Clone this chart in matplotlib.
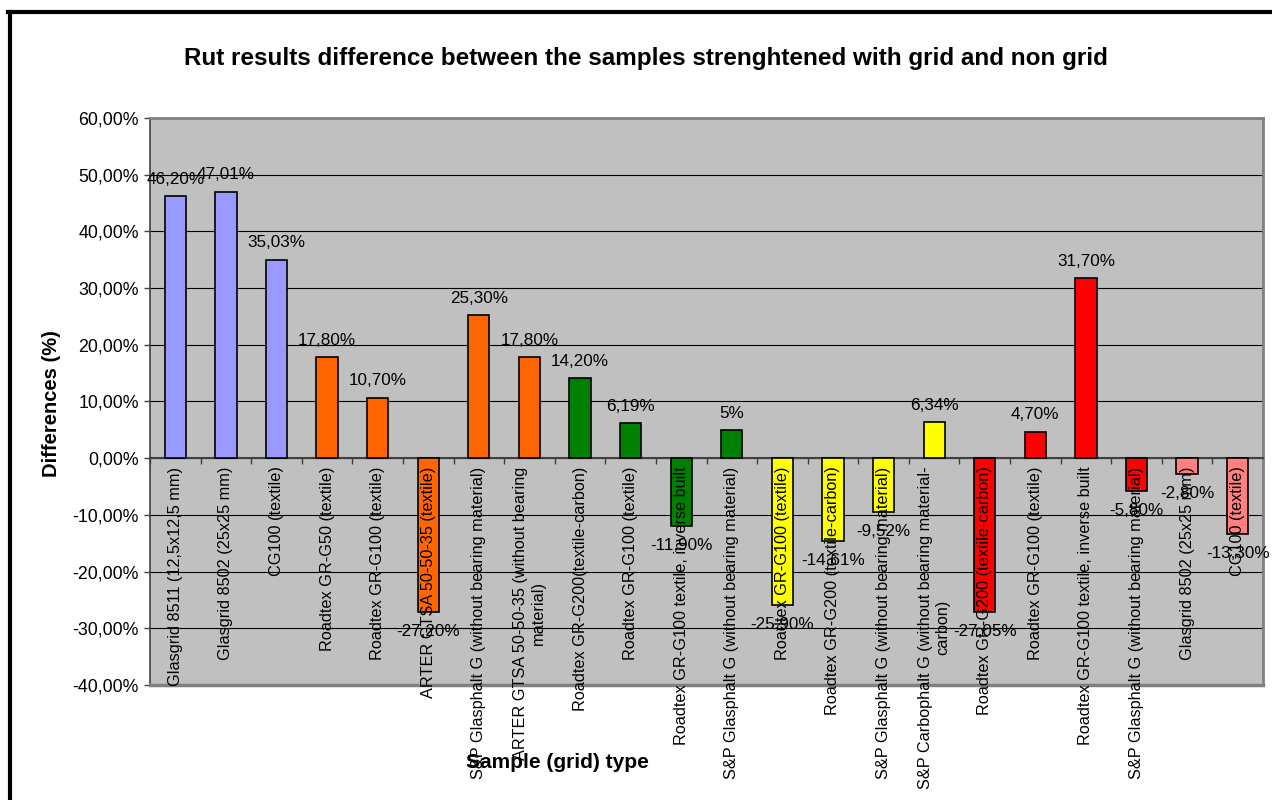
import numpy as np
import matplotlib
matplotlib.use("Agg")
import matplotlib.pyplot as plt
from matplotlib.lines import Line2D

plt.rcParams['font.family'] = ['Liberation Sans', 'DejaVu Sans']

# Данные
names = [
    "Glasgrid 8511 (12,5x12,5 mm)",
    "Glasgrid 8502 (25x25 mm)",
    "CG100 (textile)",
    "Roadtex GR-G50 (textile)",
    "Roadtex GR-G100 (textile)",
    "ARTER GTSA 50-50-35 (textile)",
    "S&P Glasphalt G (without bearing material)",
    "ARTER GTSA 50-50-35 (without bearing\nmaterial)",
    "Roadtex GR-G200(textile-carbon)",
    "Roadtex GR-G100 (textile)",
    "Roadtex GR-G100 textile, inverse built",
    "S&P Glasphalt G (without bearing material)",
    "Roadtex GR-G100 (textile)",
    "Roadtex GR-G200 (textile-carbon)",
    "S&P Glasphalt G (without bearing material)",
    "S&P Carbophalt G (without bearing material-\ncarbon)",
    "Roadtex GR-G200 (textile-carbon)",
    "Roadtex GR-G100 (textile)",
    "Roadtex GR-G100 textile, inverse built",
    "S&P Glasphalt G (without bearing material)",
    "Glasgrid 8502 (25x25 mm)",
    "CG100 (textile)",
]
values = [46.20, 47.01, 35.03, 17.80, 10.70, -27.20, 25.30, 17.80, 14.20, 6.19,
          -11.90, 5, -25.90, -14.61, -9.52, 6.34, -27.05, 4.70, 31.70, -5.80,
          -2.80, -13.30]
value_labels = ["46,20%", "47,01%", "35,03%", "17,80%", "10,70%", "-27,20%",
                "25,30%", "17,80%", "14,20%", "6,19%", "-11,90%", "5%",
                "-25,90%", "-14,61%", "-9,52%", "6,34%", "-27,05%", "4,70%",
                "31,70%", "-5,80%", "-2,80%", "-13,30%"]
groups = [0, 0, 0, 1, 1, 1, 1, 1, 2, 2, 2, 2, 3, 3, 3, 3, 4, 4, 4, 4, 5, 5]
group_colors = ['#9999FF', '#FF6600', '#008000', '#FFFF00', '#FF0000', '#FF8080']
yticks = np.arange(-40, 61, 10)

W, H = 1272, 800
fig = plt.figure(figsize=(W / 100, H / 100), dpi=100)

# Рамка диаграммы (левая и верхняя стороны видны)
fig.add_artist(Line2D([10 / W, 10 / W], [0, 1 - 12 / H], color='black', lw=3,
                      transform=fig.transFigure))
fig.add_artist(Line2D([8 / W, 1], [1 - 12 / H, 1 - 12 / H], color='black', lw=3,
                      transform=fig.transFigure))

ax = fig.add_axes([150 / W, 1 - 685 / H, (1263 - 150) / W, (685 - 118) / H])
ax.set_facecolor('#C0C0C0')

x = np.arange(len(names))
colors = [group_colors[g] for g in groups]
ax.bar(x, values, width=0.42, color=colors, edgecolor='black', linewidth=1.2, zorder=3)

ax.set_xlim(-0.5, len(names) - 0.5)
ax.set_ylim(-40, 60)
ax.set_yticks(yticks)
ax.set_yticklabels([f"{t:.2f}".replace('.', ',') + '%' for t in yticks], fontsize=12.8)
ax.tick_params(axis='y', length=4, width=1, pad=4, color='#404040')
ax.yaxis.grid(True, color='black', lw=0.8)
ax.set_axisbelow(True)

# Ось категорий проходит через ноль
ax.spines['bottom'].set_position(('data', 0))
ax.spines['bottom'].set_color('#404040')
ax.spines['bottom'].set_linewidth(1.5)
ax.set_xticks(np.arange(-0.5, len(names), 1))
ax.set_xticklabels([])
ax.tick_params(axis='x', length=4, width=1, color='#404040')
ax.spines['left'].set_color('#404040')
ax.spines['left'].set_linewidth(1.2)
for s in ['top', 'right']:
    ax.spines[s].set_color('#808080')
    ax.spines[s].set_linewidth(2)
ax.axhline(-40, color='#808080', lw=2.5, clip_on=False, zorder=4)

for i, name in enumerate(names):
    ax.annotate(name, xy=(i, 0), xytext=(0, -6), textcoords='offset points',
                rotation=90, ha='center', va='top', multialignment='center',
                fontsize=11.7, annotation_clip=False, zorder=5)

for i, (v, lbl) in enumerate(zip(values, value_labels)):
    ax.annotate(lbl, xy=(i, v), xytext=(0, 12 if v > 0 else -14),
                textcoords='offset points', ha='center', va='center',
                fontsize=12.3, zorder=6)

fig.text(646 / W, 1 - 58 / H,
         "Rut results difference between the samples strenghtened with grid and non grid",
         ha='center', va='center', fontsize=17.5, fontweight='bold')
fig.text(52 / W, 1 - 404 / H, "Differences (%)", rotation=90, ha='center',
         va='center', fontsize=14.5, fontweight='bold')
fig.text(557 / W, 1 - 762 / H, "Sample (grid) type", ha='center', va='center',
         fontsize=15, fontweight='bold', zorder=10)

fig.savefig("out.png", dpi=100)
